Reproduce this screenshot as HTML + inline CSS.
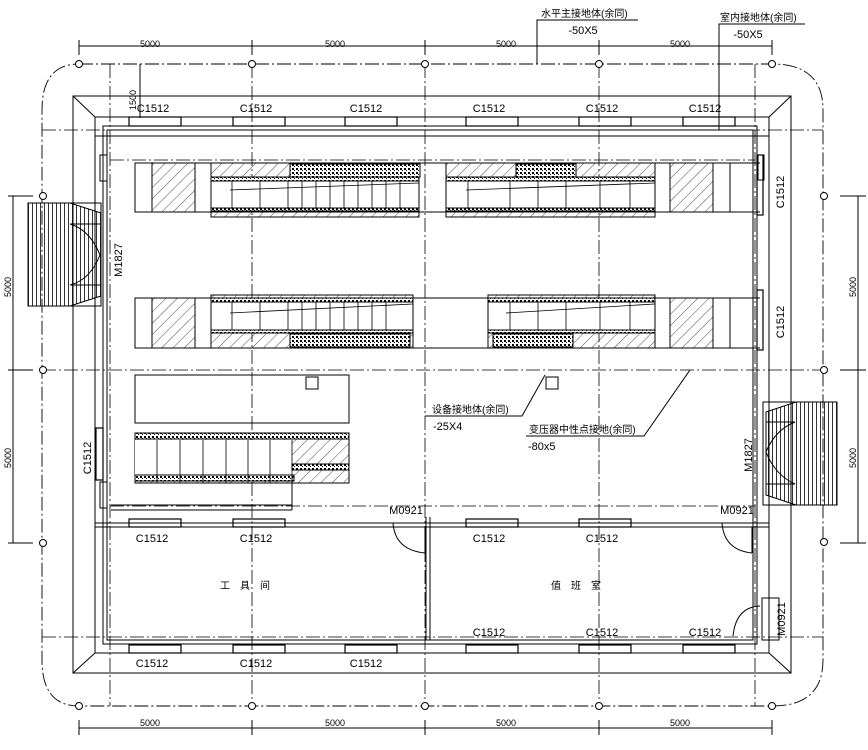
<!DOCTYPE html>
<html><head><meta charset="utf-8"><style>
html,body{margin:0;padding:0;background:#fff;}
svg{display:block;}
text{font-family:"Liberation Sans","Noto Sans CJK SC",sans-serif;fill:#000;}
</style></head><body>
<svg width="868" height="750" viewBox="0 0 868 750" xmlns="http://www.w3.org/2000/svg">
<defs>
<pattern id="h" width="8" height="8" patternUnits="userSpaceOnUse" patternTransform="rotate(45)"><line x1="0" y1="0" x2="0" y2="8" stroke="#000" stroke-width="0.7"/></pattern>
<pattern id="d" width="4" height="4" patternUnits="userSpaceOnUse"><rect width="4" height="4" fill="#fff"/><rect x="0" y="0" width="2" height="2" fill="#000"/><rect x="2" y="2" width="1" height="1" fill="#000"/></pattern>
<pattern id="st" width="4" height="10" patternUnits="userSpaceOnUse"><line x1="0.5" y1="0" x2="0.5" y2="10" stroke="#000" stroke-width="0.8"/></pattern>
</defs>
<g fill="none" stroke="#000" stroke-width="1">
<!-- axis dash-dot boundary -->
<path d="M79 64 H772 Q823 64 823 110 V660 Q823 706 772 706 H79 Q42 706 42 660 V110 Q42 64 79 64Z" stroke-dasharray="14 3 2 3" stroke-width="0.9"/>
<g stroke-dasharray="14 3 2 3" stroke-width="0.8">
<line x1="252" y1="64" x2="252" y2="706"/><line x1="425" y1="64" x2="425" y2="706"/><line x1="599" y1="64" x2="599" y2="706"/>
<line x1="110" y1="64" x2="110" y2="706"/><line x1="755" y1="64" x2="755" y2="706"/>
<line x1="42" y1="370" x2="823" y2="370"/><line x1="42" y1="130" x2="823" y2="130"/><line x1="42" y1="637" x2="823" y2="637"/>
<line x1="110" y1="506" x2="755" y2="506"/><line x1="110" y1="160" x2="755" y2="160"/>
</g>
<g fill="#fff">
<circle cx="79" cy="64" r="3.5"/><circle cx="252" cy="64" r="3.5"/><circle cx="425" cy="64" r="3.5"/><circle cx="599" cy="64" r="3.5"/><circle cx="772" cy="64" r="3.5"/>
<circle cx="79" cy="706" r="3.5"/><circle cx="252" cy="706" r="3.5"/><circle cx="425" cy="706" r="3.5"/><circle cx="599" cy="706" r="3.5"/><circle cx="772" cy="706" r="3.5"/>
<circle cx="43" cy="196" r="3.5"/><circle cx="43" cy="370" r="3.5"/><circle cx="43" cy="543" r="3.5"/>
<circle cx="824" cy="196" r="3.5"/><circle cx="824" cy="370" r="3.5"/><circle cx="824" cy="542" r="3.5"/>
</g>
<!-- dimension lines -->
<line x1="79" y1="46" x2="772" y2="46"/><line x1="79" y1="40" x2="79" y2="55"/><line x1="252" y1="40" x2="252" y2="55"/><line x1="425" y1="40" x2="425" y2="55"/><line x1="599" y1="40" x2="599" y2="55"/><line x1="772" y1="40" x2="772" y2="55"/>
<line x1="79" y1="728" x2="772" y2="728"/><line x1="79" y1="720" x2="79" y2="735"/><line x1="252" y1="720" x2="252" y2="735"/><line x1="425" y1="720" x2="425" y2="735"/><line x1="599" y1="720" x2="599" y2="735"/><line x1="772" y1="720" x2="772" y2="735"/>
<line x1="13" y1="196" x2="13" y2="543"/><line x1="8" y1="196" x2="33" y2="196"/><line x1="8" y1="370" x2="33" y2="370"/><line x1="8" y1="543" x2="33" y2="543"/>
<line x1="858" y1="196" x2="858" y2="543"/><line x1="840" y1="196" x2="866" y2="196"/><line x1="840" y1="370" x2="866" y2="370"/><line x1="840" y1="543" x2="866" y2="543"/>
<line x1="140" y1="64" x2="140" y2="118"/>
<!-- walls -->
<rect x="73" y="96" width="718" height="577"/>
<rect x="95" y="117" width="674" height="536"/>
<line x1="73" y1="96" x2="95" y2="117"/><line x1="791" y1="96" x2="769" y2="117"/><line x1="73" y1="673" x2="95" y2="653"/><line x1="791" y1="673" x2="769" y2="653"/>
<rect x="103" y="126" width="654" height="518"/><rect x="107" y="130" width="646" height="510"/>
<line x1="95" y1="136" x2="769" y2="136"/>
<line x1="95" y1="523" x2="769" y2="523"/><line x1="95" y1="527" x2="769" y2="527"/>
<line x1="426" y1="517" x2="426" y2="640"/><line x1="430" y1="517" x2="430" y2="640"/>
<!-- windows -->
<g stroke-width="1.2">
<rect x="129" y="117" width="52" height="9"/><rect x="233" y="117" width="52" height="9"/><rect x="345" y="117" width="52" height="9"/>
<rect x="466" y="117" width="52" height="9"/><rect x="579" y="117" width="52" height="9"/><rect x="683" y="117" width="52" height="9"/>
<rect x="129" y="645" width="52" height="8"/><rect x="233" y="645" width="52" height="8"/><rect x="345" y="645" width="52" height="8"/>
<rect x="466" y="645" width="52" height="8"/><rect x="579" y="645" width="52" height="8"/><rect x="683" y="645" width="52" height="8"/>
<rect x="129" y="519" width="52" height="8"/><rect x="233" y="519" width="52" height="8"/><rect x="466" y="519" width="52" height="8"/><rect x="579" y="519" width="52" height="8"/>
<rect x="757" y="155" width="6" height="60"/><rect x="757" y="290" width="6" height="60"/><rect x="96" y="428" width="7" height="52"/>
</g>
<!-- doors -->
<rect x="100" y="155" width="7" height="26"/><rect x="100" y="482" width="7" height="26"/>
<rect x="758" y="155" width="6" height="25"/>
<path d="M393 523 Q395 550 425 553"/><line x1="425" y1="527" x2="425" y2="553"/>
<path d="M722 523 Q724 550 752 553"/><line x1="752" y1="527" x2="752" y2="553"/>
<path d="M733 636 Q736 607 760 606"/><rect x="762" y="598" width="17" height="42"/>
<!-- stairs -->
<rect x="28" y="203" width="73" height="103"/>
<path d="M28 203 H70 L101 213 V296 L70 306 H28Z" fill="url(#st)"/>
<line x1="70" y1="224" x2="101" y2="224"/><line x1="70" y1="285" x2="101" y2="285"/><path d="M70 224 Q90 230 100 255 Q90 280 70 285"/>
<rect x="763" y="402" width="74" height="103"/>
<path d="M837 402 H796 L766 412 V495 L796 505 H837Z" fill="url(#st)"/>
<line x1="766" y1="422" x2="795" y2="422"/><line x1="766" y1="484" x2="795" y2="484"/><path d="M795 422 Q775 430 766 452 Q775 475 795 484"/>
<!-- equipment rooms -->
<rect x="135" y="163" width="60" height="49"/><rect x="152" y="163" width="43" height="49" fill="url(#h)"/>
<rect x="135" y="298" width="60" height="50"/><rect x="152" y="298" width="43" height="50" fill="url(#h)"/>
<rect x="670" y="163" width="60" height="49"/><rect x="670" y="163" width="43" height="49" fill="url(#h)"/>
<rect x="670" y="298" width="60" height="50"/><rect x="670" y="298" width="43" height="50" fill="url(#h)"/>
<line x1="135" y1="212" x2="760" y2="212"/><line x1="135" y1="298" x2="760" y2="298"/><line x1="135" y1="348" x2="760" y2="348"/><line x1="135" y1="163" x2="760" y2="163"/>
<!-- trenches -->
<g>
<rect x="211" y="163" width="208" height="54" fill="url(#h)"/><rect x="211" y="181" width="208" height="28" fill="#fff"/>
<rect x="211" y="177" width="208" height="4" fill="url(#d)"/><rect x="211" y="208" width="208" height="3" fill="url(#d)"/>
<rect x="446" y="163" width="209" height="54" fill="url(#h)"/><rect x="446" y="181" width="209" height="28" fill="#fff"/>
<rect x="446" y="177" width="209" height="4" fill="url(#d)"/><rect x="446" y="208" width="209" height="3" fill="url(#d)"/>
<rect x="211" y="295" width="202" height="53" fill="url(#h)"/><rect x="211" y="302" width="202" height="28" fill="#fff"/>
<rect x="211" y="298" width="202" height="4" fill="url(#d)"/><rect x="211" y="330" width="202" height="3" fill="url(#d)"/>
<rect x="488" y="295" width="167" height="53" fill="url(#h)"/><rect x="488" y="302" width="167" height="28" fill="#fff"/>
<rect x="488" y="298" width="167" height="4" fill="url(#d)"/><rect x="488" y="330" width="167" height="3" fill="url(#d)"/>
<g fill="url(#d)"><rect x="290" y="164" width="130" height="13"/><rect x="516" y="164" width="60" height="13"/><rect x="290" y="334" width="120" height="13"/><rect x="493" y="334" width="80" height="13"/></g>
<g stroke-width="0.8"><path d="M232 181V209M260 181V209M288 181V209M302 181V209M316 181V209M330 181V209M344 181V209M358 181V209M372 181V209M386 181V209M400 181V209"/>
<path d="M468 181V209M510 181V209M538 181V209M566 181V209M600 181V209M630 181V209"/>
<path d="M232 302V330M260 302V330M288 302V330M302 302V330M316 302V330M330 302V330M344 302V330M358 302V330M372 302V330M386 302V330"/>
<path d="M510 302V330M538 302V330M566 302V330M600 302V330M630 302V330"/>
<line x1="230" y1="190" x2="419" y2="183"/><line x1="230" y1="313" x2="413" y2="304"/><line x1="466" y1="190" x2="655" y2="183"/><line x1="506" y1="313" x2="655" y2="304"/></g>
</g>
<!-- lower area -->
<rect x="135" y="375" width="214" height="48"/><rect x="306" y="377" width="12" height="12"/><rect x="546" y="377" width="12" height="12"/>
<rect x="135" y="433" width="214" height="50" fill="url(#h)"/><rect x="135" y="440" width="157" height="35" fill="#fff" stroke="none"/>
<rect x="135" y="433" width="214" height="6" fill="url(#d)"/><rect x="135" y="475" width="159" height="6" fill="url(#d)"/>
<rect x="292" y="464" width="57" height="6" fill="url(#d)"/>
<path d="M157 440V483M180 440V483M203 440V483M226 440V483M248 440V483M270 440V483M292 440V483" stroke-width="0.8"/>
<line x1="111" y1="505" x2="292" y2="505"/><line x1="292" y1="475" x2="292" y2="510"/><line x1="111" y1="510" x2="292" y2="510"/>
<!-- leaders -->
<polyline points="537,64 537,20 638,20"/><polyline points="719,130 719,24 805,24"/>
<polyline points="425,416 522,416 545,375"/><polyline points="526,436 644,436 690,370"/>
</g>
<!-- text -->
<g font-size="9">
<text x="150" y="47" text-anchor="middle">5000</text><text x="335" y="47" text-anchor="middle">5000</text><text x="506" y="47" text-anchor="middle">5000</text><text x="680" y="47" text-anchor="middle">5000</text>
<text x="150" y="726" text-anchor="middle">5000</text><text x="335" y="726" text-anchor="middle">5000</text><text x="506" y="726" text-anchor="middle">5000</text><text x="680" y="726" text-anchor="middle">5000</text>
<text transform="translate(11,287) rotate(-90)" text-anchor="middle">5000</text><text transform="translate(11,458) rotate(-90)" text-anchor="middle">5000</text>
<text transform="translate(856,287) rotate(-90)" text-anchor="middle">5000</text><text transform="translate(856,458) rotate(-90)" text-anchor="middle">5000</text>
<text transform="translate(136,100) rotate(-90)" text-anchor="middle">1500</text>
</g>
<g font-size="11">
<text x="153" y="112" text-anchor="middle">C1512</text><text x="256" y="112" text-anchor="middle">C1512</text><text x="366" y="112" text-anchor="middle">C1512</text>
<text x="489" y="112" text-anchor="middle">C1512</text><text x="602" y="112" text-anchor="middle">C1512</text><text x="705" y="112" text-anchor="middle">C1512</text>
<text x="152" y="542" text-anchor="middle">C1512</text><text x="256" y="542" text-anchor="middle">C1512</text><text x="489" y="542" text-anchor="middle">C1512</text><text x="602" y="542" text-anchor="middle">C1512</text>
<text x="489" y="636" text-anchor="middle">C1512</text><text x="602" y="636" text-anchor="middle">C1512</text><text x="705" y="636" text-anchor="middle">C1512</text>
<text x="152" y="667" text-anchor="middle">C1512</text><text x="256" y="667" text-anchor="middle">C1512</text><text x="366" y="667" text-anchor="middle">C1512</text>
<text transform="translate(784,192) rotate(-90)" text-anchor="middle">C1512</text><text transform="translate(784,322) rotate(-90)" text-anchor="middle">C1512</text>
<text transform="translate(91,458) rotate(-90)" text-anchor="middle">C1512</text>
<text transform="translate(122,260) rotate(-90)" text-anchor="middle">M1827</text><text transform="translate(752,455) rotate(-90)" text-anchor="middle">M1827</text>
<text x="406" y="514" text-anchor="middle">M0921</text><text x="737" y="514" text-anchor="middle">M0921</text>
<text transform="translate(785,619) rotate(-90)" text-anchor="middle">M0921</text>
<text x="583" y="34" text-anchor="middle">-50X5</text><text x="748" y="38" text-anchor="middle">-50X5</text>
<text x="433" y="430">-25X4</text><text x="528" y="450">-80x5</text>
</g>
<g font-size="10">
<text x="541" y="17">水平主接地体(余同)</text><text x="720" y="21">室内接地体(余同)</text>
<text x="432" y="413">设备接地体(余同)</text><text x="529" y="433">变压器中性点接地(余同)</text>
<text x="245" y="589" text-anchor="middle">工　具　间</text><text x="576" y="589" text-anchor="middle">值　班　室</text>
</g>
</svg>
</body></html>
